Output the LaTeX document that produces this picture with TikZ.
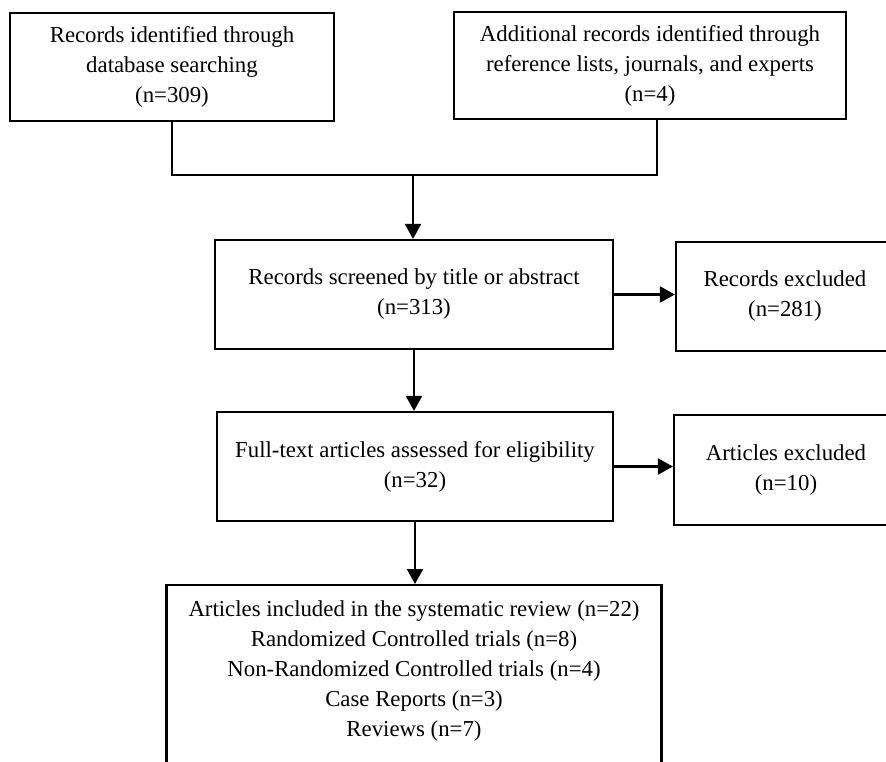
\documentclass[tikz,border=0pt]{standalone}
\usepackage{fontspec}
\setmainfont{Liberation Serif}
\usetikzlibrary{arrows.meta}
\tikzset{
  box/.style={draw, line width=2.2pt, inner sep=0pt, align=center, font=\fontsize{22.8}{30}\selectfont},
  link/.style={line width=2.2pt},
  arr/.style={line width=2.2pt, -{Triangle[length=15pt,width=16pt]}},
}
\begin{document}
\begin{tikzpicture}[x=1pt, y=-1pt]
    \useasboundingbox (0,0) rectangle (886,761);
    \clip (0,0) rectangle (886,761);
    \fill[white] (0,0) rectangle (886,761);

    % identification
    \node[box, minimum width=324pt, minimum height=108pt] (dbase) at (172,67) {Records identified through\\database searching\\(n=309)};
    \node[box, minimum width=392pt, minimum height=107pt] (extra) at (650,65.5) {Additional records identified through\\reference lists, journals, and experts\\(n=4)};
    \coordinate (join) at (413,175);
    \draw[link] (dbase.south) |- (join) -| ([xshift=7pt]extra.south);

    % screening
    \node[box, minimum width=398pt, minimum height=109pt] (screen) at (414,294.5) {Records screened by title or abstract\\(n=313)};
    \node[box, minimum width=218pt, minimum height=109pt] (recexcl) at (785,296.5) {Records excluded\\(n=281)};
    \draw[arr] (join) -- (join |- screen.north);
    \draw[arr] (screen.east) -- (screen.east -| recexcl.west);

    % eligibility
    \node[box, minimum width=396pt, minimum height=109pt] (full) at (415,466.5) {Full-text articles assessed for eligibility\\(n=32)};
    \node[box, minimum width=224pt, minimum height=110pt] (artexcl) at (786,470) {Articles excluded\\(n=10)};
    \draw[arr] (screen.south) -- (screen.south |- full.north);
    \draw[arr] (full.east) -- (full.east -| artexcl.west);

    % included
    \node[box, anchor=north, minimum width=495pt, minimum height=200pt] (incl) at (414,584) {};
    \node[box, draw=none, anchor=north] (incltext) at (414,600) {Articles included in the systematic review (n=22)\\Randomized Controlled trials (n=8)\\Non-Randomized Controlled trials (n=4)\\Case Reports (n=3)\\Reviews (n=7)};
    \draw[arr] (full.south) -- (full.south |- incl.north);
\end{tikzpicture}
\end{document}
